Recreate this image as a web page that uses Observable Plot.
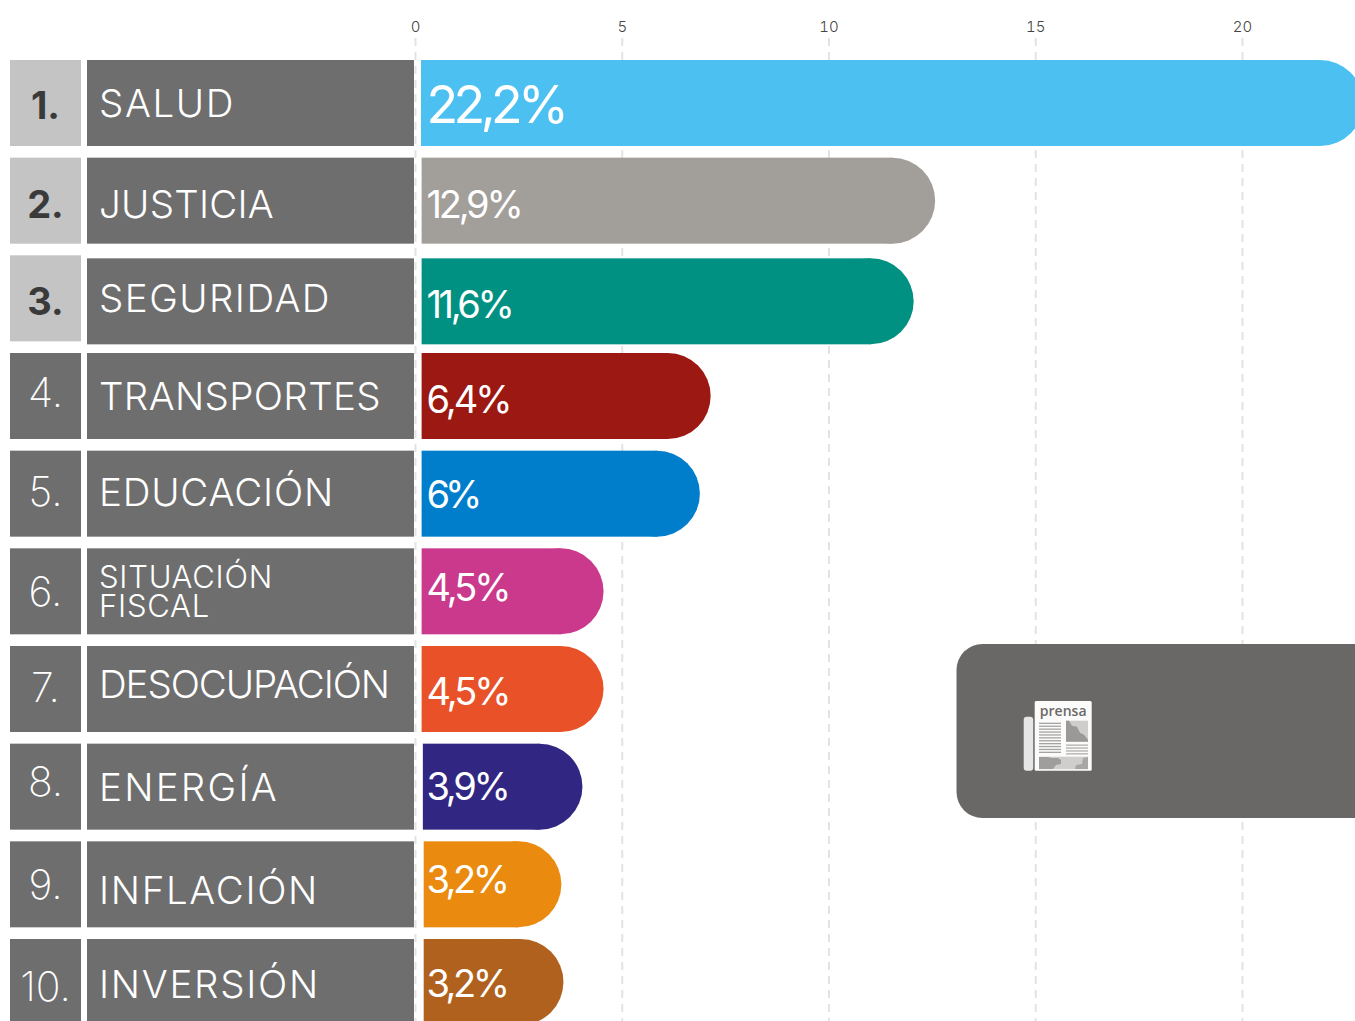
<!DOCTYPE html>
<html><head><meta charset="utf-8">
<script src="https://cdn.jsdelivr.net/npm/d3@7"></script>
<script src="https://cdn.jsdelivr.net/npm/@observablehq/plot@0.6"></script>
<style>html,body{margin:0;padding:0;background:#fff;overflow:hidden}#c{width:1355px;height:1021px;overflow:hidden}</style>
</head><body><div id="c"></div>
<script>
// Values
const ranks = ["1.","2.","3.","4.","5.","6.","7.","8.","9.","10."];
const categories = ["SALUD","JUSTICIA","SEGURIDAD","TRANSPORTES","EDUCACIÓN","SITUACIÓN\nFISCAL","DESOCUPACIÓN","ENERGÍA","INFLACIÓN","INVERSIÓN"];
const printedValues = ["22,2%","12,9%","11,6%","6,4%","6%","4,5%","4,5%","3,9%","3,2%","3,2%"];
// Where each drawn bar ends and starts, as read against the chart's own axis
const barEnds = [22.93,12.58,12.06,7.15,6.89,4.56,4.56,4.05,3.54,3.59];
const barStarts = [0.145,0.16,0.16,0.16,0.16,0.16,0.16,0.19,0.21,0.21];
const tickValues = [0,5,10,15,20];
const barColors = ["#4cc1f1","#a29e9a","#009183","#9c1812","#007ecb","#ca398c","#e95228","#312783","#ea8a0f","#b0611e"];

// Small hand-placement offsets of the original infographic
const rowShift   = [0,0,3,0,0,0,0,0,0,0];
const labelNudge = [2,5,2,2,0,1.5,-3,2,8,4];
const valueNudge = [3,5,7,4,2,-3,3,1,-4,2];
const rankNudge  = [3.5,4.5,3.5,-3,-1.5,1,-0.5,-4,1,5];
// Rendered text widths (px) of the wide original lettering
const textWidths = {
  "SALUD":136,"JUSTICIA":175,"SEGURIDAD":232,"TRANSPORTES":282,"EDUCACIÓN":235,"SITUACIÓN":174,"FISCAL":111,
  "DESOCUPACIÓN":290,"ENERGÍA":180,"INFLACIÓN":220,"INVERSIÓN":221,
  "22,2%":138,"12,9%":94,"11,6%":85,"6,4%":83,"6%":51,"4,5%":82,"3,9%":81,"3,2%":80
};

const FONT = "Inter";
const pxPerUnit = 41.35;
const rows = ranks.map((rank,i)=>({rank,i,category:categories[i],printed:printedValues[i],end:barEnds[i],start:barStarts[i],color:barColors[i]}));
const u = px => (px-415)/pxPerUnit; // layout positions in axis units
const capR = 43/pxPerUnit;

const rowMarks = rows.flatMap(r=>{
  const top3 = r.i<3;
  const big = r.i===0, two = r.category.includes("\n");
  return [
    Plot.rect([r],{x1:u(10),x2:u(81),y:"rank",fill:top3?"#c4c4c4":"#6e6e6e"}),
    Plot.rect([r],{x1:u(87),x2:u(414),y:"rank",fill:"#6e6e6e",dy:rowShift[r.i]}),
    Plot.barX([r],{x1:"start",x2:d=>d.end-capR,y:"rank",fill:"color",dy:rowShift[r.i]}),
    Plot.barX([r],{x1:d=>d.end-2*capR,x2:"end",y:"rank",fill:"color",rx:43,dy:rowShift[r.i]}),
    Plot.text([r],{x:u(45),y:"rank",text:"rank",fill:top3?"#3a3a3a":"#fff",fontSize:top3?38:41,fontWeight:top3?700:200,textAnchor:"middle",dy:rankNudge[r.i],fontFamily:FONT}),
    Plot.text([r],{x:u(98.5),y:"rank",text:"category",fill:"#fff",fontSize:two?31:38.5,fontWeight:300,lineHeight:0.93,textAnchor:"start",dy:labelNudge[r.i],fontFamily:FONT}),
    Plot.text([r],{x:u(426),y:"rank",text:"printed",fill:"#fff",fontSize:big?52:38,fontWeight:400,textAnchor:"start",dy:valueNudge[r.i],fontFamily:FONT})
  ];
});

// Press call-out box and newspaper pictogram
function callout(index,{x}){
  const g=d3.create("svg:g");
  g.append("rect").attr("x",x(u(956.5))).attr("y",644).attr("width",460).attr("height",174).attr("rx",26).attr("fill","#6a6866");
  g.append("rect").attr("x",1023.7).attr("y",716.7).attr("width",9.5).attr("height",54).attr("rx",3).attr("fill","#e6e6e6");
  g.append("rect").attr("x",1034.7).attr("y",701).attr("width",57).attr("height",69.7).attr("rx",1.5).attr("fill","#fbfbfb");
  g.append("text").attr("x",1063.2).attr("y",716).attr("text-anchor","middle").attr("font-family","Open Sans").attr("font-size",14).attr("font-weight",600).attr("fill","#6b6967").text("prensa");
  for(let k=0;k<11;k++) g.append("rect").attr("x",1039).attr("y",722.7+k*2.9).attr("width",22).attr("height",1.3).attr("fill","#a5a3a1");
  for(let k=0;k<4;k++) g.append("rect").attr("x",1066).attr("y",744.5+k*2.9).attr("width",22).attr("height",1.3).attr("fill","#b0aead");
  g.append("rect").attr("x",1066).attr("y",720.7).attr("width",22).attr("height",21).attr("fill","#cfcdcb");
  g.append("path").attr("d","M1066 720.7h3l3 5 5 1 3 6 4 2 4 5v2h-22z").attr("fill","#9b9997");
  g.append("rect").attr("x",1039).attr("y",756.7).attr("width",49).attr("height",12.5).attr("fill","#d0cecc");
  g.append("path").attr("d","M1039 757h9l4 1 6 0 3 2v4l-5 1-3 4h-14z").attr("fill","#a09e9c");
  g.append("path").attr("d","M1075 769l1-4 6-1 1-6 5-1v12z").attr("fill","#a9a7a5");
  return g.node();
}

const plot = Plot.plot({
  width:1355,height:1021,marginTop:38,marginBottom:0,marginLeft:0,marginRight:0,
  style:{fontFamily:FONT,background:"#fff",overflow:"hidden"},
  x:{domain:[u(0),u(1355)],range:[0,1355]},
  y:{domain:ranks,range:[60,1025],paddingInner:0.1195,paddingOuter:0,align:0,round:false,axis:null},
  marks:[
    Plot.ruleX(tickValues,{x:d=>d,stroke:"#e3e3e3",strokeWidth:2,strokeDasharray:"8,6"}),
    Plot.axisX(tickValues,{anchor:"top",tickSize:0,tickPadding:7,fontSize:15,fontWeight:300,fill:"#444",label:null,fontFamily:FONT}),
    ...rowMarks,
    callout
  ]
});
document.getElementById("c").appendChild(plot);

// Fit the lettering to the original's widths
plot.querySelectorAll("text").forEach(t=>{
  const sp=t.querySelectorAll("tspan");
  (sp.length?[...sp]:[t]).forEach(el=>{
    const target=textWidths[el.textContent.trim()];
    if(target==null) return;
    const n=el.textContent.trim().length;
    el.style.letterSpacing=((target-el.getComputedTextLength())/n).toFixed(2)+"px";
  });
});
</script>
</body></html>
